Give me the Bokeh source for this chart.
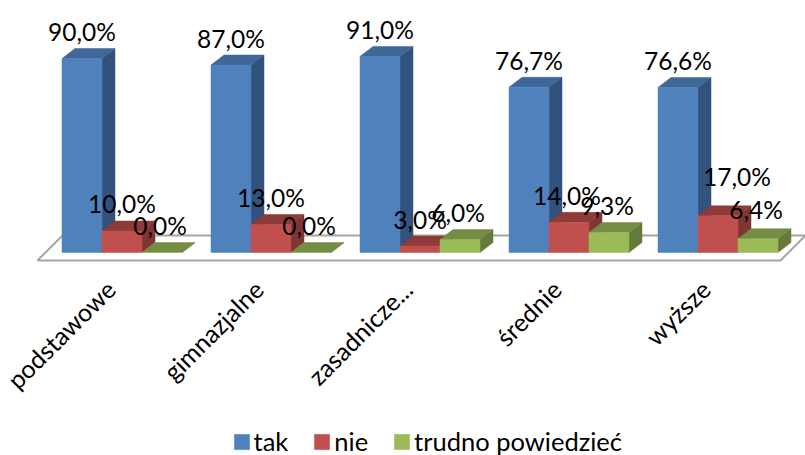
from bokeh.plotting import figure
from bokeh.models import Range1d, FixedTicker, Legend, LegendItem, ColumnDataSource
from bokeh.core.properties import value
from bokeh.embed import file_html
from bokeh.resources import INLINE
import math

categories = ["podstawowe", "gimnazjalne", "zasadnicze...", "średnie", "wyższe"]
tak = [90.0, 87.0, 91.0, 76.7, 76.6]
nie = [10.0, 13.0, 3.0, 14.0, 17.0]
trudno = [0.0, 0.0, 6.0, 9.3, 6.4]
series_names = ["tak", "nie", "trudno powiedzieć"]
series_values = [tak, nie, trudno]
front_colors = ["#4F81BD", "#C0504D", "#9BBB59"]
top_colors = ["#3F6797", "#8E3A38", "#748C43"]
side_colors = ["#31527C", "#7F3533", "#657A3A"]
# Per-label nudges (px) for the hand-moved data labels
label_dx = [[0, 0, 0, 0, 0], [0, 0, 0, -2, 19], [-2, -2, -2, -2, -2]]
label_dy = [[0, 0, 0, 0, 0], [0, 0, 0, 0, -12], [0, 0, 0, 0, -2]]

# Scales: one category = 149 px, one percent = 2.155 px
PX_X = 149.0
PX_Y = 2.155
W, H = 805, 455
BASE_PX = 252
CENTER0_PX = 109          # tick position of the first category
SHIFT = 12.5 / PX_X       # bars stand slightly right of their tick
BAR_W = 40 / PX_X
DX = 13 / PX_X
DY = 10 / PX_Y
FONT = "Lato"

p = figure(width=W, height=H, output_backend="svg", toolbar_location=None,
           x_range=Range1d(-CENTER0_PX / PX_X, (W - CENTER0_PX) / PX_X),
           y_range=Range1d((BASE_PX - H) / PX_Y, BASE_PX / PX_Y),
           min_border_left=0, min_border_right=0, min_border_top=0, min_border_bottom=0,
           outline_line_color=None, background_fill_color="white", margin=0)
p.grid.visible = False
p.yaxis.visible = False

# Floor
fx = lambda px: (px - CENTER0_PX) / PX_X
fy = lambda px: (BASE_PX - px) / PX_Y
p.patch([fx(37), fx(780), fx(805), fx(62)], [fy(260), fy(260), fy(235), fy(235)],
        fill_color="white", line_color="#A6A6A6", line_width=2)

# 3D bars
legend_items = []
for s, (name, vals) in enumerate(zip(series_names, series_values)):
    for i, v in enumerate(vals):
        left = i + SHIFT + (s - 1.5) * BAR_W
        right = left + BAR_W
        p.patch([right, right + DX, right + DX, right], [0, DY, v + DY, v],
                fill_color=side_colors[s], line_color=side_colors[s], line_width=0.5)
        p.patch([left, right, right + DX, left + DX], [v, v, v + DY, v + DY],
                fill_color=top_colors[s], line_color=top_colors[s], line_width=0.5)
    xs = [i + SHIFT + (s - 1) * BAR_W for i in range(len(vals))]
    r = p.vbar(x=xs, top=vals, bottom=0, width=BAR_W, fill_color=front_colors[s],
               line_color=front_colors[s], line_width=0.5)
    legend_items.append(LegendItem(label=name, renderers=[r]))

# Data labels
for s, vals in enumerate(series_values):
    src = ColumnDataSource(dict(
        x=[i + SHIFT + (s - 1) * BAR_W for i in range(len(vals))], y=vals,
        t=[f"{v:.1f}%".replace(".", ",") for v in vals],
        dx=label_dx[s], dy=[d - 27 for d in label_dy[s]]))
    p.text("x", "y", text="t", source=src, text_font=value(FONT), text_font_size="24.5px",
           text_color="black", text_align="center", text_baseline="middle",
           x_offset="dx", y_offset="dy")

# Category axis placed inside the frame
ax = p.xaxis[0]
ax.ticker = FixedTicker(ticks=list(range(len(categories))))
ax.major_label_overrides = {i: c for i, c in enumerate(categories)}
ax.major_label_orientation = math.pi / 4
ax.major_label_text_font = FONT
ax.major_label_text_font_size = "25px"
ax.major_label_text_color = "black"
ax.major_label_standoff = 14
ax.axis_line_color = None
ax.major_tick_line_color = None
ax.minor_tick_line_color = None
ax.fixed_location = fy(264)

legend = Legend(items=legend_items, orientation="horizontal", location=(231.5, -1),
                background_fill_alpha=0, border_line_color=None,
                glyph_width=19, glyph_height=19, label_standoff=3, spacing=24, margin=0,
                padding=0, label_text_font=FONT, label_text_font_size="25.5px",
                label_text_color="black")
p.add_layout(legend, "center")

open("out.html", "w").write(file_html(p, INLINE))
